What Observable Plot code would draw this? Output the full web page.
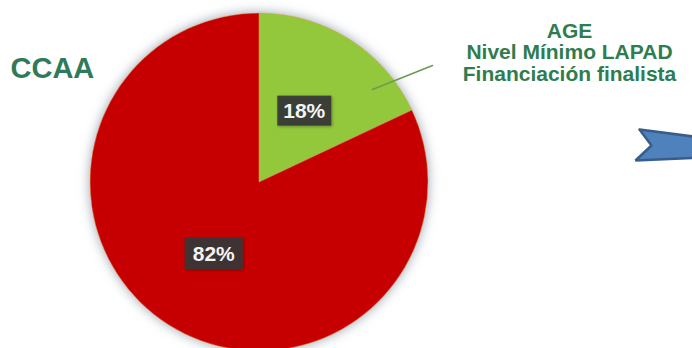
<!DOCTYPE html>
<html>
<head>
<meta charset="utf-8">
<script src="https://cdn.jsdelivr.net/npm/d3@7"></script>
<script src="https://cdn.jsdelivr.net/npm/@observablehq/plot@0.6"></script>
<style>
  html, body { margin: 0; padding: 0; background: #ffffff; }
  #chart { width: 692px; height: 348px; overflow: hidden; }
</style>
</head>
<body>
<div id="chart"></div>
<script>
// ---- data ----
const categories = ["AGE", "CCAA"];
const shares = [18, 82];
const shareLabels = ["18%", "82%"];
const sliceColors = ["#93c83e", "#c60000"];
const ccaaTitle = ["CCAA"];
const ageTitleLines = ["AGE", "Nivel Mínimo LAPAD", "Financiación finalista"];

// ---- layout (frame coordinates of the 692x348 picture) ----
const W = 692, H = 348;
const FONT = "Liberation Sans, Arial, sans-serif";
const pieCenter = {x: 259, y: 182};
const pieRadius = 169;
const ccaaPos = {x: 10, y: 77};
const agePos = {x: 569, y: 37, step: 21.5};
const leader = [{x: 372, y: 89}, {x: 432, y: 65}];
const arrowShape = [
  {x: 639, y: 129}, {x: 700, y: 137}, {x: 700, y: 157},
  {x: 635, y: 160}, {x: 651, y: 145}, {x: 639, y: 129}
];

const rows = categories.map((c, i) => ({category: c, share: shares[i], label: shareLabels[i], color: sliceColors[i]}));

function pieMark(index, scales) {
  const sx = scales && scales.x ? scales.x : (v) => v;
  const sy = scales && scales.y ? scales.y : (v) => v;
  const cx = sx(pieCenter.x), cy = sy(pieCenter.y);
  const r = sx(pieCenter.x + pieRadius) - cx;
  const ns = "http://www.w3.org/2000/svg";
  const g = document.createElementNS(ns, "g");
  const defs = document.createElementNS(ns, "defs");
  defs.innerHTML = `<filter id="pieshadow" x="-20%" y="-20%" width="140%" height="140%">
      <feGaussianBlur in="SourceAlpha" stdDeviation="6" result="b"/>
      <feFlood flood-color="#8f9aa8" flood-opacity="0.9" result="c"/>
      <feComposite in="c" in2="b" operator="in" result="s"/>
      <feMerge><feMergeNode in="s"/><feMergeNode in="SourceGraphic"/></feMerge>
    </filter>
    <filter id="boxshadow" x="-20%" y="-20%" width="140%" height="140%">
      <feDropShadow dx="1" dy="1" stdDeviation="1.5" flood-color="#000" flood-opacity="0.35"/>
    </filter>`;
  g.appendChild(defs);
  const pie = d3.pie().sort(null).value(d => d.share)(rows);
  const arc = d3.arc().innerRadius(0).outerRadius(r);
  const slices = document.createElementNS(ns, "g");
  slices.setAttribute("transform", `translate(${cx},${cy})`);
  slices.setAttribute("filter", "url(#pieshadow)");
  for (const p of pie) {
    const path = document.createElementNS(ns, "path");
    path.setAttribute("d", arc(p));
    path.setAttribute("fill", p.data.color);
    path.setAttribute("stroke", "#e0a020");
    path.setAttribute("stroke-width", "0.8");
    path.setAttribute("stroke-opacity", "0.6");
    slices.appendChild(path);
  }
  g.appendChild(slices);
  const labels = document.createElementNS(ns, "g");
  labels.setAttribute("transform", `translate(${cx},${cy})`);
  for (const p of pie) {
    const [lx, ly] = arc.centroid(p);
    const bw = p.data.share < 50 ? 54 : 58, bh = p.data.share < 50 ? 30 : 32;
    const rect = document.createElementNS(ns, "rect");
    rect.setAttribute("x", lx - bw / 2);
    rect.setAttribute("y", ly - bh / 2);
    rect.setAttribute("width", bw);
    rect.setAttribute("height", bh);
    rect.setAttribute("fill", "#383838");
    rect.setAttribute("fill-opacity", "0.92");
    rect.setAttribute("filter", "url(#boxshadow)");
    labels.appendChild(rect);
    const t = document.createElementNS(ns, "text");
    t.setAttribute("x", lx);
    t.setAttribute("y", ly);
    t.setAttribute("dy", "0.36em");
    t.setAttribute("text-anchor", "middle");
    t.setAttribute("fill", "#f4f4f4");
    t.setAttribute("font-family", FONT);
    t.setAttribute("font-weight", "bold");
    t.setAttribute("font-size", "21");
    t.textContent = p.data.label;
    labels.appendChild(t);
  }
  g.appendChild(labels);
  return g;
}

const ageRows = ageTitleLines.map((s, i) => ({text: s, x: agePos.x, y: agePos.y + i * agePos.step}));

const chart = Plot.plot({
  width: W,
  height: H,
  margin: 0,
  style: {background: "#ffffff", fontFamily: FONT},
  x: {type: "linear", domain: [0, W], range: [0, W], axis: null},
  y: {type: "linear", domain: [0, H], range: [0, H], axis: null},
  marks: [
    pieMark,
    Plot.line(leader, {x: "x", y: "y", stroke: "#6f9a55", strokeWidth: 1.6}),
    Plot.line(arrowShape, {x: "x", y: "y", fill: "#4f81bd", stroke: "#385d8a", strokeWidth: 2.5, strokeLinejoin: "miter", curve: "linear"}),
    Plot.text(ccaaTitle, {x: () => ccaaPos.x, y: () => ccaaPos.y, text: d => d, textAnchor: "start", lineAnchor: "bottom", fill: "#2f7a5a", fontSize: 29, fontWeight: "bold", fontFamily: FONT}),
    Plot.text(ageRows, {x: "x", y: "y", text: "text", textAnchor: "middle", lineAnchor: "bottom", fill: "#2f7d4f", fontSize: 21, fontWeight: "bold", fontFamily: FONT})
  ]
});
document.getElementById("chart").appendChild(chart);
</script>
</body>
</html>
